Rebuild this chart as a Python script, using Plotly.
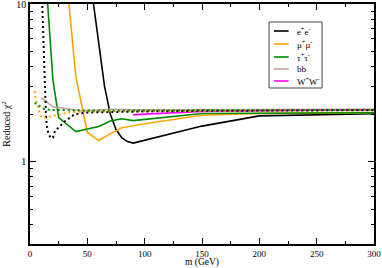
import plotly.graph_objects as go

# ---- data ----
m_ee = [50, 55, 60, 65, 70, 75, 80, 85, 90, 150, 200, 250, 300]
chi_ee = [25, 10.5, 5.6, 3.0, 2.0, 1.6, 1.42, 1.34, 1.31, 1.68, 1.95, 1.99, 2.01]

m_mm = [30, 40, 50, 60, 70, 80, 90, 100, 150, 200, 250, 300]
chi_mm = [20, 3.45, 1.53, 1.36, 1.5, 1.64, 1.69, 1.74, 1.97, 2.02, 2.03, 2.04]

m_tt = [15, 20, 25, 40, 60, 70, 80, 90, 150, 200, 250, 300]
chi_tt = [11, 3.3, 1.9, 1.55, 1.67, 1.81, 1.87, 1.82, 2.02, 2.03, 2.04, 2.04]

m_bb = [10, 15, 20, 26, 44, 60, 70, 90, 100, 150, 200, 250, 300]
chi_bb = [2.55, 2.38, 2.22, 2.2, 2.1, 2.12, 2.15, 2.13, 2.13, 2.14, 2.15, 2.15, 2.15]

m_ww = [90, 100, 150, 200, 250, 300]
chi_ww = [1.98, 2.0, 2.08, 2.11, 2.12, 2.13]

m_ee_dot = [10, 13, 14, 15, 16, 18, 20, 22, 26, 29, 33, 39, 50, 70, 100, 150, 200, 250, 300]
chi_ee_dot = [14, 3.0, 1.9, 1.64, 1.52, 1.41, 1.42, 1.58, 1.67, 1.77, 1.85, 2.0, 2.05, 2.07, 2.08, 2.1, 2.11, 2.11, 2.12]

m_mm_dot = [4, 5, 8, 10, 13, 17, 25, 35, 50, 100, 150, 200, 250, 300]
chi_mm_dot = [2.8, 2.5, 2.08, 1.9, 1.9, 1.93, 2.0, 2.06, 2.08, 2.1, 2.1, 2.11, 2.11, 2.12]

m_tt_dot = [4, 9, 12, 18, 30, 50, 100, 150, 200, 250, 300]
chi_tt_dot = [2.36, 2.22, 2.16, 2.13, 2.12, 2.11, 2.11, 2.12, 2.12, 2.12, 2.13]

legend_labels = ["e<sup>+</sup>e<sup>-</sup>", "μ<sup>+</sup>μ<sup>-</sup>",
                 "τ<sup>+</sup>τ<sup>-</sup>", "bb", "W<sup>+</sup>W<sup>-</sup>"]
x_tickvals = [0, 50, 100, 150, 200, 250, 300]
y_tickvals = [1, 10]

# ---- styles ----
C_EE, C_MM, C_TT, C_BB, C_WW = "#000000", "#FFA500", "#008A00", "#C8A2A2", "#FF00FF"
FONT = "Liberation Serif, Times New Roman, serif"

fig = go.Figure()

solid = [(m_ee, chi_ee, C_EE), (m_mm, chi_mm, C_MM), (m_tt, chi_tt, C_TT),
         (m_bb, chi_bb, C_BB), (m_ww, chi_ww, C_WW)]
for (mx, cy, col), name in zip(solid, legend_labels):
    fig.add_trace(go.Scatter(x=mx, y=cy, mode="lines", name=name,
                             line=dict(color=col, width=1.6), showlegend=False))

dotted = [(m_ee_dot, chi_ee_dot, C_EE), (m_mm_dot, chi_mm_dot, C_MM), (m_tt_dot, chi_tt_dot, C_TT)]
for mx, cy, col in dotted:
    fig.add_trace(go.Scatter(x=mx, y=cy, mode="lines",
                             line=dict(color=col, width=2, dash="2px,3px"), showlegend=False))

# ---- manual legend box ----
x0, x1 = 0.695, 0.849
y0, y1 = 0.65, 0.925
fig.add_shape(type="rect", xref="paper", yref="paper", x0=x0, x1=x1, y0=y0, y1=y1,
              line=dict(color="#444444", width=1), fillcolor="white", layer="above")
item_y = [0.8875, 0.8333, 0.7792, 0.7292, 0.6792]
cols = [C_EE, C_MM, C_TT, C_BB, C_WW]
for yy, col, lab in zip(item_y, cols, legend_labels):
    fig.add_shape(type="line", xref="paper", yref="paper", x0=0.709, x1=0.752, y0=yy, y1=yy,
                  line=dict(color=col, width=1.6), layer="above")
    fig.add_annotation(xref="paper", yref="paper", x=0.770, y=yy, text=lab, showarrow=False,
                       xanchor="left", yanchor="middle", font=dict(family=FONT, size=9, color="black"))

axis_common = dict(showline=True, linecolor="black", linewidth=1.5, mirror="ticks",
                   ticks="inside", tickcolor="black", ticklen=6, tickwidth=1,
                   showgrid=False, zeroline=False, automargin=False,
                   ticklabeloverflow="allow", showticklabels=True)

fig.update_xaxes(range=[0, 300], tickvals=x_tickvals, ticktext=[str(v) for v in x_tickvals],
                 tickfont=dict(family=FONT, size=9, color="black"),
                 minor=dict(ticks="inside", ticklen=3, dtick=25, tick0=0, tickcolor="black", showgrid=False),
                 title=dict(text="m (GeV)", font=dict(family=FONT, size=9.5, color="black"), standoff=1),
                 **axis_common)
fig.update_yaxes(type="log", range=[-0.5229, 1], tickvals=y_tickvals, ticktext=["1", "10"],
                 tickfont=dict(family=FONT, size=10, color="black"),
                 minor=dict(ticks="inside", ticklen=3, tickcolor="black", showgrid=False,
                            tickvals=[0.3, 0.4, 0.5, 0.6, 0.7, 0.8, 0.9, 2, 3, 4, 5, 6, 7, 8, 9]),
                 title=dict(text="Reduced χ<sup>2</sup>", font=dict(family=FONT, size=10, color="black"), standoff=4),
                 **axis_common)

fig.update_layout(width=382, height=268, margin=dict(l=30, r=8, t=4, b=24),
                  paper_bgcolor="white", plot_bgcolor="white", showlegend=False,
                  font=dict(family=FONT, size=10, color="black"))

fig.write_html("out.html", config={"displayModeBar": False},
               post_script="document.body.style.margin='0';document.body.style.padding='0';")
